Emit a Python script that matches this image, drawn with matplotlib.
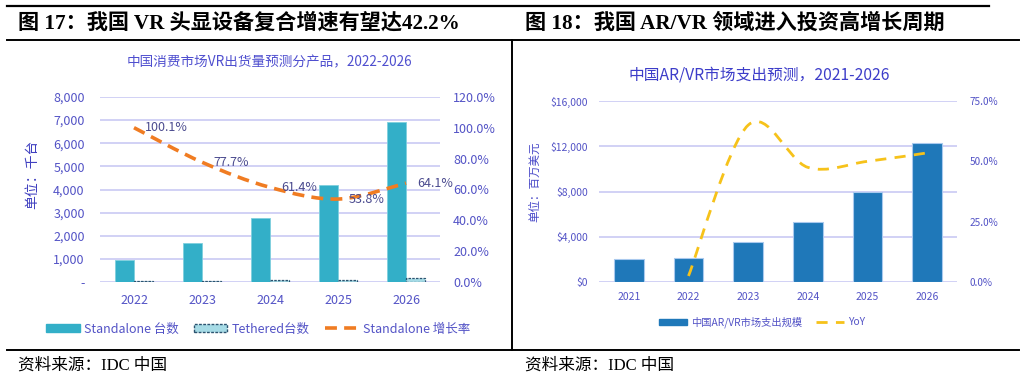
import numpy as np
import matplotlib.pyplot as plt
from matplotlib.lines import Line2D
from matplotlib.patches import Patch, PathPatch
from matplotlib.path import Path
from matplotlib.ticker import FuncFormatter, MultipleLocator

plt.rcParams['font.family'] = ['Noto Sans CJK SC', 'DejaVu Sans']

# ---- data: left chart (VR shipments, thousand units) ----
years_l = ['2022', '2023', '2024', '2025', '2026']
standalone = [950, 1700, 2750, 4200, 6900]
tethered = [30, 50, 70, 100, 180]
growth = [100.1, 77.7, 61.4, 53.8, 64.1]

# ---- data: right chart (AR/VR spending, million USD) ----
years_r = ['2021', '2022', '2023', '2024', '2025', '2026']
spend = [2050, 2100, 3560, 5330, 8000, 12310]
yoy = [2.5, 65.0, 47.5, 50.0, 53.5]  # 2022-2026

W, H = 1024, 379
fig = plt.figure(figsize=(W / 100, H / 100), dpi=100)

def fx(px):
    return px / W

def fy(py):
    return 1 - py / H

def smooth_path(xs, ys):
    # cubic bezier through the points (excel style smoothed line)
    pts = np.column_stack([xs, ys]).astype(float)
    n = len(pts)
    verts = [pts[0]]
    codes = [Path.MOVETO]
    for i in range(n - 1):
        p0 = pts[max(i - 1, 0)]
        p1 = pts[i]
        p2 = pts[i + 1]
        p3 = pts[min(i + 2, n - 1)]
        verts += [p1 + (p2 - p0) / 6, p2 - (p3 - p1) / 6, p2]
        codes += [Path.CURVE4] * 3
    return Path(verts, codes)

tick_col = '#5353c6'
grid_col = '#c9c9f4'

# ---------------- left chart ----------------
ax = fig.add_axes([fx(100), fy(282), fx(340), (282 - 97) / H])
x = np.arange(len(years_l))
w = 0.28
ax.bar(x - w / 2, standalone, w, color='#33afc8', edgecolor='#7fd0de', lw=0.6, zorder=3)
ax.bar(x + w / 2, tethered, w, color='#a6dbe6', edgecolor='#2c5470', lw=0.9, ls=(0, (2, 1)), zorder=3)
ax.set_xlim(-0.5, len(years_l) - 0.5)
ax.set_ylim(0, 8000)
ax.yaxis.set_major_locator(MultipleLocator(1000))
ax.yaxis.set_major_formatter(FuncFormatter(lambda v, p: '-' if v == 0 else f'{v:,.0f}'))
ax.set_xticks(x)
ax.set_xticklabels(years_l)
ax.grid(axis='y', color=grid_col, lw=1.2, zorder=0)
ax.tick_params(axis='y', length=0, pad=11, labelsize=9, labelcolor=tick_col)
ax.tick_params(axis='x', length=0, pad=9, labelsize=9, labelcolor=tick_col)
for s in ax.spines.values():
    s.set_visible(False)
ax.set_axisbelow(True)

ax2 = ax.twinx()
ax2.set_ylim(0, 120)
ax2.yaxis.set_major_locator(MultipleLocator(20))
ax2.yaxis.set_major_formatter(FuncFormatter(lambda v, p: f'{v:.1f}%'))
ax2.tick_params(axis='y', length=0, pad=9.5, labelsize=9, labelcolor=tick_col)
for s in ax2.spines.values():
    s.set_visible(False)
ax2.add_patch(PathPatch(smooth_path(x, growth), fill=False, edgecolor='#f07c22',
                        lw=2.6, ls=(0, (3.3, 2)), zorder=4))
for xi, g in zip(x, growth):
    ax2.annotate(f'{g:.1f}%', (xi, g), xytext=(8, 0), textcoords='offset points',
                 ha='left', va='center', fontsize=9, color='#4b4b8f', zorder=5)

fig.text(fx(32), fy(174), '单位：千台', rotation=90, ha='center', va='center',
         fontsize=10, color='#3f3fc0')
fig.text(fx(269), fy(62), '中国消费市场VR出货量预测分产品，2022-2026', ha='center', va='center',
         fontsize=9.8, color='#4f4fcf')

hl = [Patch(facecolor='#33afc8', edgecolor='#33afc8'),
      Patch(facecolor='#a6dbe6', edgecolor='#2c5470', ls=(0, (2, 1))),
      Line2D([], [], color='#f07c22', lw=2.6, ls=(0, (3.3, 2)))]
fig.legend(hl, ['Standalone 台数', 'Tethered台数', 'Standalone 增长率'],
           loc='center', bbox_to_anchor=(fx(258), fy(329)), ncol=3, frameon=False,
           fontsize=9, labelcolor='#5353c6', handlelength=2.7, handletextpad=0.35,
           columnspacing=1.2, handleheight=0.6)

# ---------------- right chart ----------------
bx = fig.add_axes([fx(599), fy(282), fx(358), (282 - 101) / H])
xr = np.arange(len(years_r))
bx.bar(xr, spend, 0.5, color='#1f78b9', edgecolor='#a9c9ee', lw=0.8, zorder=3)
bx.set_xlim(-0.5, len(years_r) - 0.5)
bx.set_ylim(0, 16000)
bx.yaxis.set_major_locator(MultipleLocator(4000))
bx.yaxis.set_major_formatter(FuncFormatter(lambda v, p: f'${v:,.0f}'))
bx.set_xticks(xr)
bx.set_xticklabels(years_r)
bx.grid(axis='y', color=grid_col, lw=1.2, zorder=0)
bx.tick_params(axis='y', length=0, pad=8, labelsize=7.5, labelcolor=tick_col)
bx.tick_params(axis='x', length=0, pad=7, labelsize=7.5, labelcolor=tick_col)
for s in bx.spines.values():
    s.set_visible(False)
bx.set_axisbelow(True)

bx2 = bx.twinx()
bx2.set_ylim(0, 75)
bx2.yaxis.set_major_locator(MultipleLocator(25))
bx2.yaxis.set_major_formatter(FuncFormatter(lambda v, p: f'{v:.1f}%'))
bx2.tick_params(axis='y', length=0, pad=9, labelsize=7.2, labelcolor=tick_col)
for s in bx2.spines.values():
    s.set_visible(False)
bx2.add_patch(PathPatch(smooth_path(xr[1:], yoy), fill=False, edgecolor='#f6c21a',
                        lw=2.0, ls=(0, (4, 3)), zorder=4))

fig.text(fx(535), fy(182), '单位：百万美元', rotation=90, ha='center', va='center',
         fontsize=8.3, color='#4848c8')
fig.text(fx(759), fy(75), '中国AR/VR市场支出预测，2021-2026', ha='center', va='center',
         fontsize=11.3, color='#3d3dc9')

hr = [Patch(facecolor='#1f78b9', edgecolor='#1f78b9'),
      Line2D([], [], color='#f6c21a', lw=2.0, ls=(0, (4, 3)))]
fig.legend(hr, ['中国AR/VR市场支出规模', 'YoY'],
           loc='center', bbox_to_anchor=(fx(762), fy(322)), ncol=2, frameon=False,
           fontsize=7.4, labelcolor='#5353c6', handlelength=2.7, handletextpad=0.4,
           columnspacing=1.4, handleheight=0.5)

# ---------------- frame lines & headers ----------------
for (x0, y0, x1, y1, lw) in [(7, 6, 989, 6, 1.6), (7, 40, 1019, 40, 1.4),
                             (7, 350, 1019, 350, 1.4), (512, 40, 512, 350, 1.4)]:
    fig.add_artist(Line2D([fx(x0), fx(x1)], [fy(y0), fy(y1)], color='black', lw=lw))

head_font = ['Liberation Serif', 'Noto Sans CJK SC']
fig.text(fx(18), fy(23), '图 17：我国 VR 头显设备复合增速有望达42.2%', ha='left', va='center',
         fontsize=15.2, fontweight='bold', family=head_font)
fig.text(fx(525), fy(24), '图 18：我国 AR/VR 领域进入投资高增长周期', ha='left', va='center',
         fontsize=15.2, fontweight='bold', family=head_font)
fig.text(fx(18), fy(366), '资料来源：IDC 中国', ha='left', va='center',
         fontsize=12, family=head_font)
fig.text(fx(525), fy(366), '资料来源：IDC 中国', ha='left', va='center',
         fontsize=12, family=head_font)

fig.savefig('out.png', dpi=100)
